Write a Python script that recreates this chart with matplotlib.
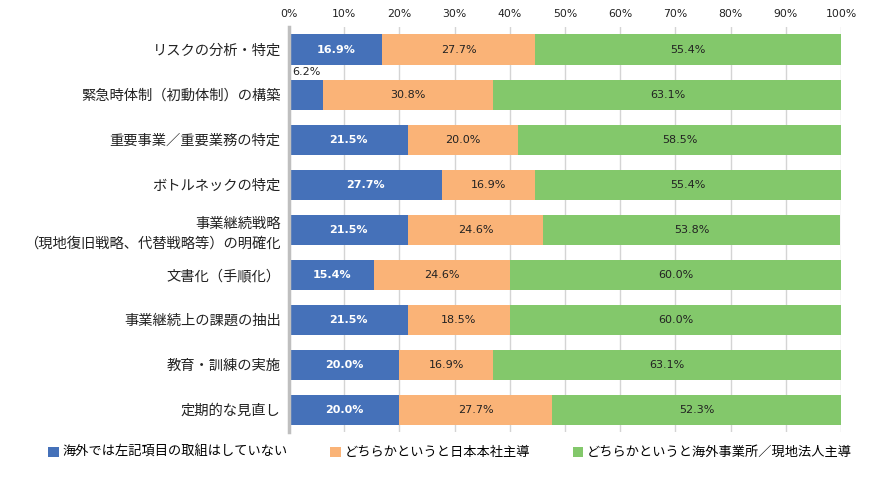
import matplotlib.pyplot as plt
import numpy as np

plt.rcParams["font.family"] = ["Noto Sans CJK JP", "DejaVu Sans"]

CATEGORIES = [
    "リスクの分析・特定",
    "緊急時体制（初動体制）の構築",
    "重要事業／重要業務の特定",
    "ボトルネックの特定",
    "事業継続戦略\n（現地復旧戦略、代替戦略等）の明確化",
    "文書化（手順化）",
    "事業継続上の課題の抽出",
    "教育・訓練の実施",
    "定期的な見直し",
]
NONE_VALUES = [16.9, 6.2, 21.5, 27.7, 21.5, 15.4, 21.5, 20.0, 20.0]
JAPAN_VALUES = [27.7, 30.8, 20.0, 16.9, 24.6, 24.6, 18.5, 16.9, 27.7]
LOCAL_VALUES = [55.4, 63.1, 58.5, 55.4, 53.8, 60.0, 60.0, 63.1, 52.3]
SERIES_NAMES = [
    "海外では左記項目の取組はしていない",
    "どちらかというと日本本社主導",
    "どちらかというと海外事業所／現地法人主導",
]
TICKS = list(range(0, 101, 10))

COLORS = ["#4571B9", "#FAB377", "#83C86B"]
TEXT_COLORS = ["white", "#222222", "#222222"]


def main():
    fig = plt.figure(figsize=(8.83, 4.78), dpi=100)
    ax = fig.add_axes([0.3273, 0.0962, 0.6251, 0.8473])

    y = np.arange(len(CATEGORIES))
    series = [NONE_VALUES, JAPAN_VALUES, LOCAL_VALUES]
    left = np.zeros(len(CATEGORIES))

    for values, name, color, tcolor in zip(series, SERIES_NAMES, COLORS, TEXT_COLORS):
        values = np.array(values)
        ax.barh(y, values, left=left, height=0.667, color=color, label=name,
                zorder=3)
        for i, v in enumerate(values):
            if v < 10:
                # small segment: label sits above the bar
                ax.text(left[i] + 0.5, y[i] - 0.5, f"{v:.1f}%", ha="left",
                        va="center", fontsize=8, color="#222222",
                        family="DejaVu Sans", zorder=4)
            else:
                ax.text(left[i] + v / 2, y[i], f"{v:.1f}%", ha="center",
                        va="center", fontsize=8, color=tcolor,
                        family="DejaVu Sans",
                        fontweight="bold" if tcolor == "white" else "normal",
                        zorder=4)
        left += values

    ax.set_xlim(0, 100)
    ax.set_ylim(len(CATEGORIES) - 0.5, -0.5)
    ax.set_xticks(TICKS)
    ax.set_xticklabels([f"{t}%" for t in TICKS], family="DejaVu Sans",
                       fontsize=7.8, color="#222222")
    ax.xaxis.tick_top()
    ax.tick_params(axis="x", length=0, pad=6)
    ax.set_yticks(y)
    ax.set_yticklabels(CATEGORIES, fontsize=10.3, color="#222222",
                       linespacing=1.5)
    ax.tick_params(axis="y", length=0, pad=6)

    ax.grid(axis="x", color="#D4D4D4", linewidth=1, zorder=0)
    for side in ["top", "right", "bottom"]:
        ax.spines[side].set_visible(False)
    ax.spines["left"].set_color("#BFBFBF")
    ax.spines["left"].set_linewidth(2.5)
    ax.spines["left"].set_zorder(5)

    fig.legend(loc="center", bbox_to_anchor=(0.51, 0.053), ncol=3,
               frameon=False, fontsize=9.5, handlelength=0.8,
               handleheight=0.8, handletextpad=0.3, columnspacing=3.2)

    fig.savefig("out.png", dpi=100)
    plt.close(fig)


if __name__ == "__main__":
    main()
